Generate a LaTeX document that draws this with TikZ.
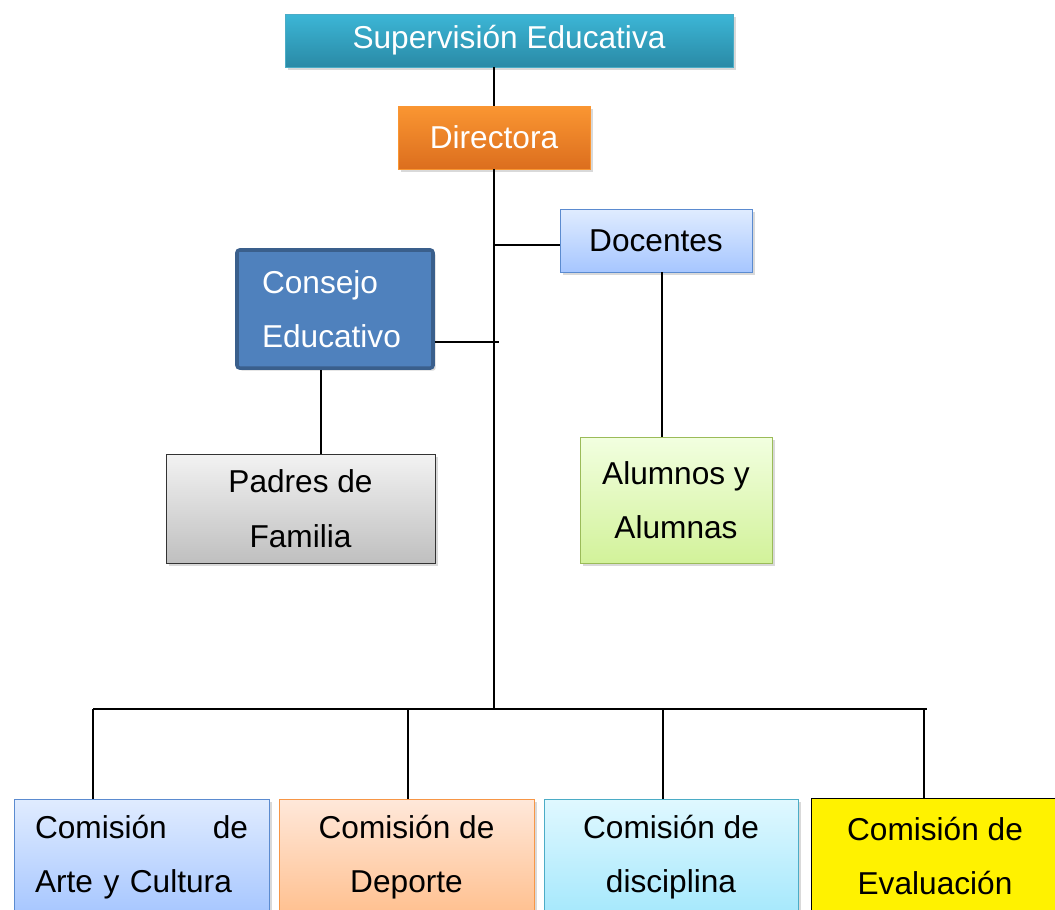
\documentclass[tikz,border=0pt]{standalone}
\usepackage{fontspec}
\setmainfont{Liberation Sans}
\usetikzlibrary{shadows}

\definecolor{tealtop}{HTML}{3CB6D6}
\definecolor{tealbot}{HTML}{2A8AA6}
\definecolor{orgtop}{HTML}{FA9632}
\definecolor{orgbot}{HTML}{DC6E1E}
\definecolor{bluetop}{HTML}{E0ECFF}
\definecolor{bluebot}{HTML}{A6C6FF}
\definecolor{blueline}{HTML}{5B8BD0}
\definecolor{consfill}{HTML}{4F81BD}
\definecolor{consline}{HTML}{3A5F8C}
\definecolor{greentop}{HTML}{F2FFE0}
\definecolor{greenbot}{HTML}{D2F29A}
\definecolor{greenline}{HTML}{9BBB59}
\definecolor{peachtop}{HTML}{FFE8DA}
\definecolor{peachbot}{HTML}{FFC08F}
\definecolor{peachline}{HTML}{F79646}
\definecolor{cyantop}{HTML}{E0F8FF}
\definecolor{cyanbot}{HTML}{A5E8FC}
\definecolor{cyanline}{HTML}{4BACC6}

\tikzset{
  box/.style={rectangle, inner sep=0pt, align=center,
    font=\fontsize{18}{31}\selectfont,
    drop shadow={shadow xshift=1.5pt, shadow yshift=-1.5pt, opacity=0.3}},
  link/.style={draw=black, line width=0.9pt}
}

\begin{document}
\begin{tikzpicture}
    \clip (0,0) rectangle (21.10,-18.18);
    \useasboundingbox (0,0) rectangle (21.10,-18.18);
    % top of the chart
    \node[box, minimum width=8.96cm, minimum height=1.06cm, top color=tealtop, bottom color=tealbot, draw=cyanline, text=white] (sup) at (10.18,-0.81) {\raisebox{-0.09cm}{Supervisión Educativa}};
    \node[box, minimum width=3.84cm, minimum height=1.26cm, top color=orgtop, bottom color=orgbot, draw=orgtop, text=white] (dir) at (9.88,-2.75) {Directora};
    \node[box, minimum width=3.84cm, minimum height=1.26cm, top color=bluetop, bottom color=bluebot, draw=blueline] (doc) at (13.12,-4.81) {Docentes};
    \node[box, minimum width=3.92cm, minimum height=2.36cm, fill=consfill, draw=consline, line width=2pt, rounded corners=1.5pt, text=white, text width=2.92cm, align=left] (cons) at (6.70,-6.18) {Consejo\\Educativo};
    \node[box, minimum width=5.38cm, minimum height=2.18cm, top color=gray!10, bottom color=gray!50, draw=black!80] (padres) at (6.01,-10.17) {Padres de\\Familia};
    \node[box, minimum width=3.84cm, minimum height=2.52cm, top color=greentop, bottom color=greenbot, draw=greenline] (alum) at (13.52,-10.00) {Alumnos y\\Alumnas};
    % comisiones
    \node[box, minimum width=5.10cm, minimum height=2.32cm, top color=bluetop, bottom color=bluebot, draw=blueline, text width=4.26cm, align=left] (arte) at (2.83,-17.14) {\makebox[\linewidth]{Comisión\hfill de}\\\mbox{Arte y Cultura}};
    \node[box, minimum width=5.10cm, minimum height=2.32cm, top color=peachtop, bottom color=peachbot, draw=peachline] (deporte) at (8.13,-17.14) {Comisión de\\Deporte};
    \node[box, minimum width=5.08cm, minimum height=2.32cm, top color=cyantop, bottom color=cyanbot, draw=cyanline] (disc) at (13.42,-17.14) {Comisión de\\disciplina};
    \node[box, minimum width=4.96cm, minimum height=2.32cm, fill=yellow, draw=black] (eval) at (18.70,-17.12) {Comisión de\\Evaluación};

    \coordinate (dline) at (13.24,0);
    \coordinate (pline) at (6.42,0);
    \coordinate (docline) at (9.88,-4.90);
    \coordinate (cline) at (9.98,-6.84);
    \coordinate (bus) at (9.88,-14.18);
    \coordinate (busL) at (1.86,-14.18);
    \coordinate (busR) at (18.54,-14.18);

    \path[link] (sup.south -| dir.north) -- (dir.north);
    \path[link] (dir.south) -- (bus);
    \path[link] (doc.west |- docline) -- (docline);
    \path[link] (doc.south -| dline) -- (alum.north -| dline);
    \path[link] (cons.east |- cline) -- (cline);
    \path[link] (cons.south -| pline) -- (padres.north -| pline);
    \path[link] (busL) -- (busR);
    \foreach \x/\n in {1.86/arte, 8.16/deporte, 13.26/disc, 18.48/eval}
        \path[link] (\x,-14.18) -- (\n.north -| \x,0);
\end{tikzpicture}
\end{document}
